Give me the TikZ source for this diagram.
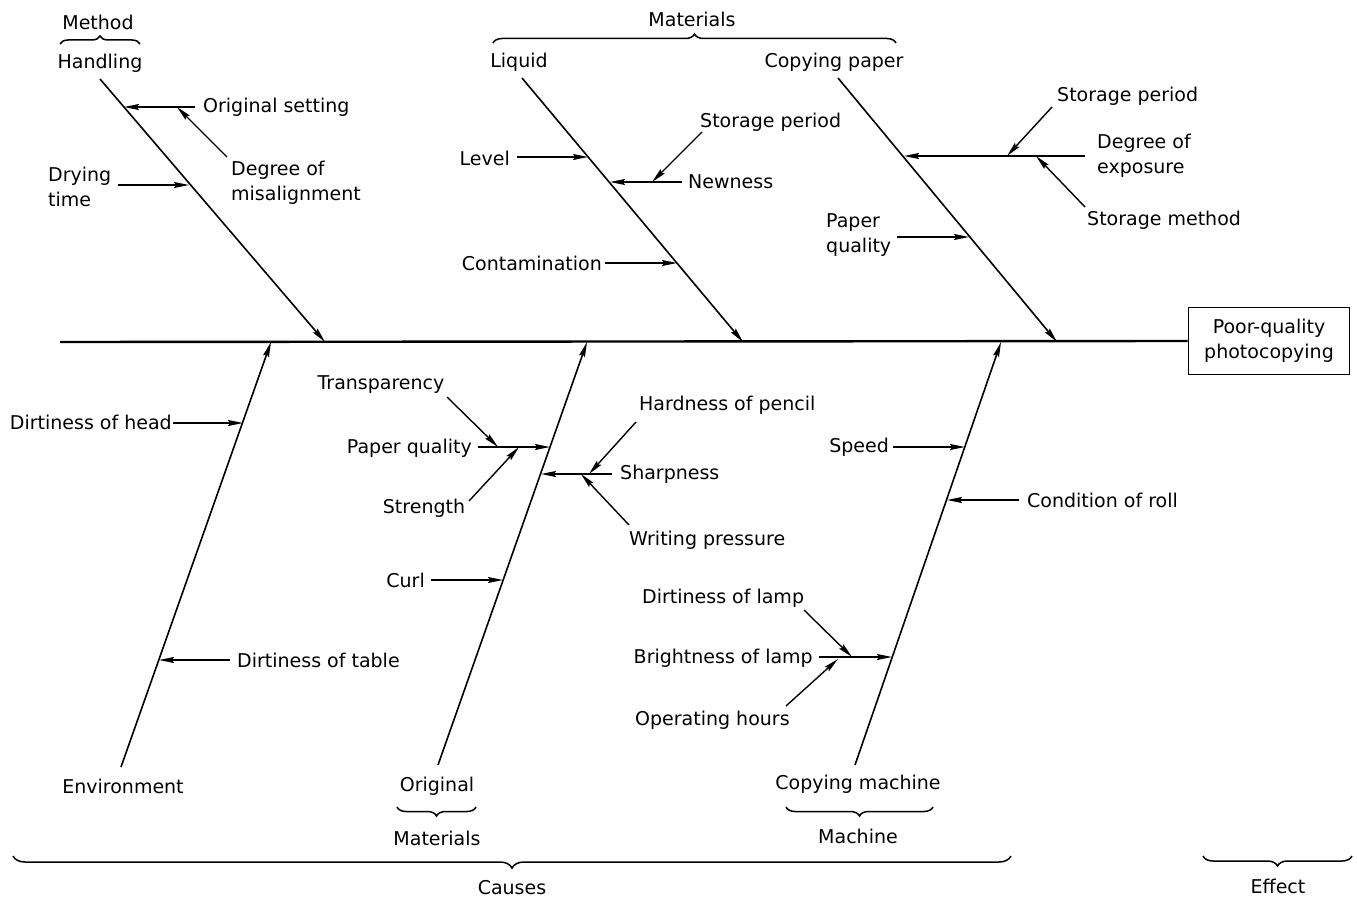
\documentclass[tikz,border=0pt]{standalone}
\usepackage{fontspec}
\setmainfont{DejaVu Sans}
\usetikzlibrary{arrows.meta,decorations.pathreplacing}
\begin{document}
\begin{tikzpicture}[x=1pt,y=-1pt,
  font=\fontsize{19}{25}\selectfont,
  spine/.style={line width=2.4pt},
  bone/.style={line width=1.6pt,-{Stealth[length=15pt,width=6pt,inset=2pt]}},
  arr/.style={line width=1.4pt,-{Stealth[length=15pt,width=6pt,inset=2pt]}},
  lbl/.style={inner sep=0pt,align=left},
  grp/.style={decorate,decoration={brace,amplitude=#1},line width=1.5pt},
  grp/.default=9pt]
\useasboundingbox (0,0) rectangle (1357,899);

% ---------- effect and spine ----------
\node[draw,line width=1.8pt,minimum width=161pt,minimum height=67pt,align=center,inner sep=0pt]
  (eff) at (1269,341) {Poor-quality\\photocopying};
\coordinate (sp0) at (60,342);
\draw[spine] (sp0) -- (eff.west);

% ---------- Handling ----------
\node[lbl] (method) at (98,22) {Method};
\node[lbl] (handling) at (100,63) {Handling};
\coordinate (mb0) at (60,44); \coordinate (mb1) at (140,44);
\draw[grp=8pt] (mb0) -- (mb1);
\coordinate (h0) at (100,79); \coordinate (h1) at (325,342);
\draw[bone] (h0) -- (h1);
\node[lbl,anchor=west] (origset) at (203,107) {Original setting};
\coordinate (os0) at (195,107); \coordinate (os1) at (124,107);
\draw[arr] (os0) -- (os1);
\node[lbl,anchor=west] (degmis) at (231,183) {Degree of\\misalignment};
\coordinate (dm0) at (227,157); \coordinate (dm1) at (177,107);
\draw[arr] (dm0) -- (dm1);
\node[lbl,anchor=west] (drying) at (48,187) {Drying\\time};
\coordinate (dr0) at (118,185); \coordinate (dr1) at (189,185);
\draw[arr] (dr0) -- (dr1);

% ---------- Liquid ----------
\node[lbl] (mattop) at (692,19) {Materials};
\coordinate (tb0) at (493,43); \coordinate (tb1) at (896,43);
\draw[grp] (tb0) -- (tb1);
\node[lbl] (liquid) at (519,62) {Liquid};
\coordinate (l0) at (522,78); \coordinate (l1) at (743,342);
\draw[bone] (l0) -- (l1);
\node[lbl,anchor=east] (level) at (510,158) {Level};
\coordinate (lv0) at (517,157); \coordinate (lv1) at (588,157);
\draw[arr] (lv0) -- (lv1);
\node[lbl,anchor=west] (newness) at (688,182) {Newness};
\coordinate (nw0) at (682,182); \coordinate (nw1) at (610,182);
\draw[arr] (nw0) -- (nw1);
\node[lbl,anchor=west] (storp1) at (700,122) {Storage period};
\coordinate (sp1a) at (702,132); \coordinate (sp1b) at (652,182);
\draw[arr] (sp1a) -- (sp1b);
\node[lbl,anchor=east] (contam) at (602,263) {Contamination};
\coordinate (ct0) at (605,263); \coordinate (ct1) at (677,263);
\draw[arr] (ct0) -- (ct1);

% ---------- Copying paper ----------
\node[lbl] (copypaper) at (834,62) {Copying paper};
\coordinate (c0) at (838,78); \coordinate (c1) at (1057,342);
\draw[bone] (c0) -- (c1);
\coordinate (ex0) at (1085,156); \coordinate (ex1) at (904,156);
\draw[arr] (ex0) -- (ex1);
\node[lbl,anchor=west] (degexp) at (1097,156) {Degree of\\exposure};
\node[lbl,anchor=west] (storp2) at (1057,96) {Storage period};
\coordinate (sp2a) at (1052,107); \coordinate (sp2b) at (1007,156);
\draw[arr] (sp2a) -- (sp2b);
\node[lbl,anchor=west] (stormeth) at (1087,220) {Storage method};
\coordinate (sm0) at (1085,207); \coordinate (sm1) at (1036,156);
\draw[arr] (sm0) -- (sm1);
\node[lbl,anchor=west] (paperq1) at (826,235) {Paper\\quality};
\coordinate (pq0) at (897,237); \coordinate (pq1) at (969,237);
\draw[arr] (pq0) -- (pq1);

% ---------- Environment ----------
\node[lbl] (env) at (123,786) {Environment};
\coordinate (e0) at (121,767); \coordinate (e1) at (271,342);
\draw[bone] (e0) -- (e1);
\node[lbl,anchor=east] (dhead) at (172,422) {Dirtiness of head};
\coordinate (dh0) at (173,423); \coordinate (dh1) at (243,423);
\draw[arr] (dh0) -- (dh1);
\node[lbl,anchor=west] (dtable) at (237,660) {Dirtiness of table};
\coordinate (dt0) at (230,660); \coordinate (dt1) at (159,660);
\draw[arr] (dt0) -- (dt1);

% ---------- Original ----------
\node[lbl] (original) at (437,786) {Original};
\coordinate (ob0) at (476,807); \coordinate (ob1) at (397,807);
\draw[grp] (ob0) -- (ob1);
\node[lbl] (matbot) at (437,838) {Materials};
\coordinate (o0) at (438,765); \coordinate (o1) at (587,342);
\draw[bone] (o0) -- (o1);
\node[lbl,anchor=east] (paperq2) at (472,448) {Paper quality};
\coordinate (pg0) at (478,447); \coordinate (pg1) at (550,447);
\draw[arr] (pg0) -- (pg1);
\node[lbl] (transp) at (381,385) {Transparency};
\coordinate (tr0) at (447,397); \coordinate (tr1) at (498,447);
\draw[arr] (tr0) -- (tr1);
\node[lbl] (strength) at (424,508) {Strength};
\coordinate (st0) at (469,501); \coordinate (st1) at (519,447);
\draw[arr] (st0) -- (st1);
\node[lbl,anchor=west] (sharp) at (620,474) {Sharpness};
\coordinate (sh0) at (612,474); \coordinate (sh1) at (541,474);
\draw[arr] (sh0) -- (sh1);
\node[lbl,anchor=west] (hard) at (639,405) {Hardness of pencil};
\coordinate (hp0) at (636,422); \coordinate (hp1) at (589,474);
\draw[arr] (hp0) -- (hp1);
\node[lbl,anchor=west] (writing) at (629,540) {Writing pressure};
\coordinate (wp0) at (629,525); \coordinate (wp1) at (581,474);
\draw[arr] (wp0) -- (wp1);
\node[lbl,anchor=east] (curl) at (425,580) {Curl};
\coordinate (cu0) at (431,580); \coordinate (cu1) at (503,580);
\draw[arr] (cu0) -- (cu1);

% ---------- Copying machine ----------
\node[lbl] (copymach) at (858,784) {Copying machine};
\coordinate (mcb0) at (933,807); \coordinate (mcb1) at (786,807);
\draw[grp] (mcb0) -- (mcb1);
\node[lbl] (machine) at (858,836) {Machine};
\coordinate (m0) at (855,765); \coordinate (m1) at (1001,342);
\draw[bone] (m0) -- (m1);
\node[lbl,anchor=east] (speed) at (889,447) {Speed};
\coordinate (spd0) at (893,447); \coordinate (spd1) at (965,447);
\draw[arr] (spd0) -- (spd1);
\node[lbl,anchor=west] (condroll) at (1027,500) {Condition of roll};
\coordinate (cr0) at (1019,500); \coordinate (cr1) at (947,500);
\draw[arr] (cr0) -- (cr1);
\node[lbl,anchor=east] (bright) at (813,658) {Brightness of lamp};
\coordinate (bl0) at (819,657); \coordinate (bl1) at (892,657);
\draw[arr] (bl0) -- (bl1);
\node[lbl,anchor=west] (dlamp) at (642,598) {Dirtiness of lamp};
\coordinate (dl0) at (804,610); \coordinate (dl1) at (852,657);
\draw[arr] (dl0) -- (dl1);
\node[lbl,anchor=west] (ophours) at (635,720) {Operating hours};
\coordinate (oh0) at (786,706); \coordinate (oh1) at (838,659);
\draw[arr] (oh0) -- (oh1);

% ---------- causes / effect ----------
\coordinate (cb0) at (1011,856); \coordinate (cb1) at (13,856);
\draw[grp=12pt] (cb0) -- (cb1);
\node[lbl] (causes) at (512,888) {Causes};
\coordinate (eb0) at (1352,856); \coordinate (eb1) at (1203,856);
\draw[grp=10pt] (eb0) -- (eb1);
\node[lbl] (effect) at (1278,886) {Effect};
\end{tikzpicture}
\end{document}
